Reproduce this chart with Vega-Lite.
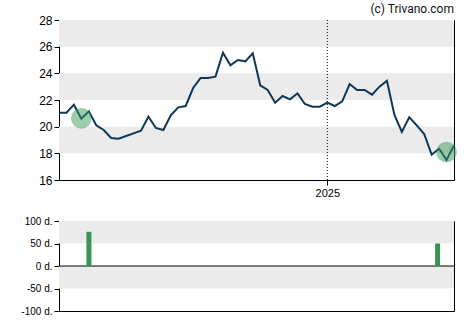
{
  "$schema": "https://vega.github.io/schema/vega-lite/v6.json",
  "padding": {"left": 20, "top": 2, "right": 15, "bottom": 5},
  "spacing": 16,
  "config": {
    "view": {"stroke": "black", "strokeWidth": 1},
    "axis": {"domainColor": "black", "tickColor": "black", "labelColor": "#000", "labelFont": "Liberation Sans", "grid": false, "title": null, "tickSize": 5, "labelPadding": 2, "labelOverlap": false},
    "font": "Liberation Sans"
  },
  "datasets": {
    "prices": [
      {"date": "2024-04-24", "price": 21.05}, {"date": "2024-05-01", "price": 21.05}, {"date": "2024-05-08", "price": 21.65},
      {"date": "2024-05-15", "price": 20.6}, {"date": "2024-05-22", "price": 21.15}, {"date": "2024-05-29", "price": 20.1},
      {"date": "2024-06-05", "price": 19.75}, {"date": "2024-06-12", "price": 19.15}, {"date": "2024-06-19", "price": 19.1},
      {"date": "2024-06-26", "price": 19.3}, {"date": "2024-07-03", "price": 19.5}, {"date": "2024-07-10", "price": 19.7},
      {"date": "2024-07-17", "price": 20.75}, {"date": "2024-07-24", "price": 19.9}, {"date": "2024-07-31", "price": 19.75},
      {"date": "2024-08-07", "price": 20.85}, {"date": "2024-08-14", "price": 21.45}, {"date": "2024-08-21", "price": 21.55},
      {"date": "2024-08-28", "price": 22.9}, {"date": "2024-09-04", "price": 23.65}, {"date": "2024-09-11", "price": 23.65},
      {"date": "2024-09-18", "price": 23.75}, {"date": "2024-09-25", "price": 25.55}, {"date": "2024-10-02", "price": 24.6},
      {"date": "2024-10-09", "price": 25.0}, {"date": "2024-10-16", "price": 24.9}, {"date": "2024-10-23", "price": 25.5},
      {"date": "2024-10-30", "price": 23.1}, {"date": "2024-11-06", "price": 22.75}, {"date": "2024-11-13", "price": 21.8},
      {"date": "2024-11-20", "price": 22.3}, {"date": "2024-11-27", "price": 22.05}, {"date": "2024-12-04", "price": 22.5},
      {"date": "2024-12-11", "price": 21.7}, {"date": "2024-12-18", "price": 21.5}, {"date": "2024-12-25", "price": 21.5},
      {"date": "2025-01-01", "price": 21.8}, {"date": "2025-01-08", "price": 21.55}, {"date": "2025-01-15", "price": 21.9},
      {"date": "2025-01-22", "price": 23.2}, {"date": "2025-01-29", "price": 22.75}, {"date": "2025-02-05", "price": 22.75},
      {"date": "2025-02-12", "price": 22.4}, {"date": "2025-02-19", "price": 23.0}, {"date": "2025-02-26", "price": 23.45},
      {"date": "2025-03-05", "price": 20.9}, {"date": "2025-03-12", "price": 19.6}, {"date": "2025-03-19", "price": 20.7},
      {"date": "2025-03-26", "price": 20.1}, {"date": "2025-04-02", "price": 19.45}, {"date": "2025-04-09", "price": 17.9},
      {"date": "2025-04-16", "price": 18.35}, {"date": "2025-04-23", "price": 17.5}, {"date": "2025-04-30", "price": 18.6}
    ],
    "signals": [
      {"date": "2024-05-15", "price": 20.63},
      {"date": "2025-04-23", "price": 18.1}
    ],
    "days": [
      {"date": "2024-05-18", "days": 76},
      {"date": "2025-04-19", "days": 50}
    ],
    "bandsTop": [{"y": 26, "y2": 28}, {"y": 22, "y2": 24}, {"y": 18, "y2": 20}],
    "bandsBottom": [{"y": 50, "y2": 100}, {"y": -50, "y2": 0}],
    "yearMark": [{"date": "2025-01-01"}],
    "zero": [{"v": 0}]
  },
  "vconcat": [
    {
      "width": 395,
      "height": 160,
      "title": {"text": "(c) Trivano.com", "anchor": "end", "frame": "group", "fontSize": 12, "fontWeight": "normal", "font": "Roboto", "color": "#111", "offset": 0, "dy": 2},
      "layer": [
        {
          "data": {"name": "bandsTop"},
          "mark": {"type": "rect", "color": "#ebebeb"},
          "encoding": {
            "x": {"value": 0},
            "x2": {"value": "width"},
            "y": {"field": "y", "type": "quantitative", "scale": {"domain": [16, 28], "nice": false, "zero": false},
                  "axis": {"values": [16, 18, 20, 22, 24, 26, 28], "tickCount": 7, "labelFontSize": 12, "labelOverlap": false}},
            "y2": {"field": "y2"}
          }
        },
        {
          "data": {"name": "yearMark"},
          "mark": {"type": "rule", "color": "black", "strokeDash": [1, 2], "strokeWidth": 1},
          "encoding": {
            "x": {"field": "date", "type": "temporal"}
          }
        },
        {
          "data": {"name": "prices"},
          "mark": {"type": "line", "color": "#0e3758", "strokeWidth": 2},
          "encoding": {
            "x": {"field": "date", "type": "temporal",
                  "scale": {"type": "utc", "domain": [{"year": 2024, "month": 4, "date": 24, "utc": true}, {"year": 2025, "month": 4, "date": 30, "utc": true}]},
                  "axis": {"values": [{"year": 2025, "month": 1, "date": 1, "utc": true}], "format": "%Y", "labelFontSize": 11}},
            "y": {"field": "price", "type": "quantitative"}
          }
        },
        {
          "data": {"name": "signals"},
          "mark": {"type": "circle", "size": 430, "color": "#3a9a5a", "opacity": 0.5},
          "encoding": {
            "x": {"field": "date", "type": "temporal"},
            "y": {"field": "price", "type": "quantitative"}
          }
        }
      ]
    },
    {
      "width": 395,
      "height": 90,
      "layer": [
        {
          "data": {"name": "bandsBottom"},
          "mark": {"type": "rect", "color": "#ebebeb"},
          "encoding": {
            "x": {"value": 0},
            "x2": {"value": "width"},
            "y": {"field": "y", "type": "quantitative", "scale": {"domain": [-100, 100], "nice": false},
                  "axis": {"values": [-100, -50, 0, 50, 100], "tickCount": 5, "labelExpr": "datum.value + ' d.'", "labelFontSize": 10, "labelOverlap": false}},
            "y2": {"field": "y2"}
          }
        },
        {
          "data": {"name": "zero"},
          "mark": {"type": "rule", "color": "black", "strokeWidth": 1},
          "encoding": {
            "y": {"field": "v", "type": "quantitative"}
          }
        },
        {
          "data": {"name": "days"},
          "mark": {"type": "bar", "color": "#3a9455", "size": 5},
          "encoding": {
            "x": {"field": "date", "type": "temporal",
                  "scale": {"type": "utc", "domain": [{"year": 2024, "month": 4, "date": 24, "utc": true}, {"year": 2025, "month": 4, "date": 30, "utc": true}]},
                  "axis": null},
            "y": {"field": "days", "type": "quantitative"}
          }
        }
      ]
    }
  ]
}
